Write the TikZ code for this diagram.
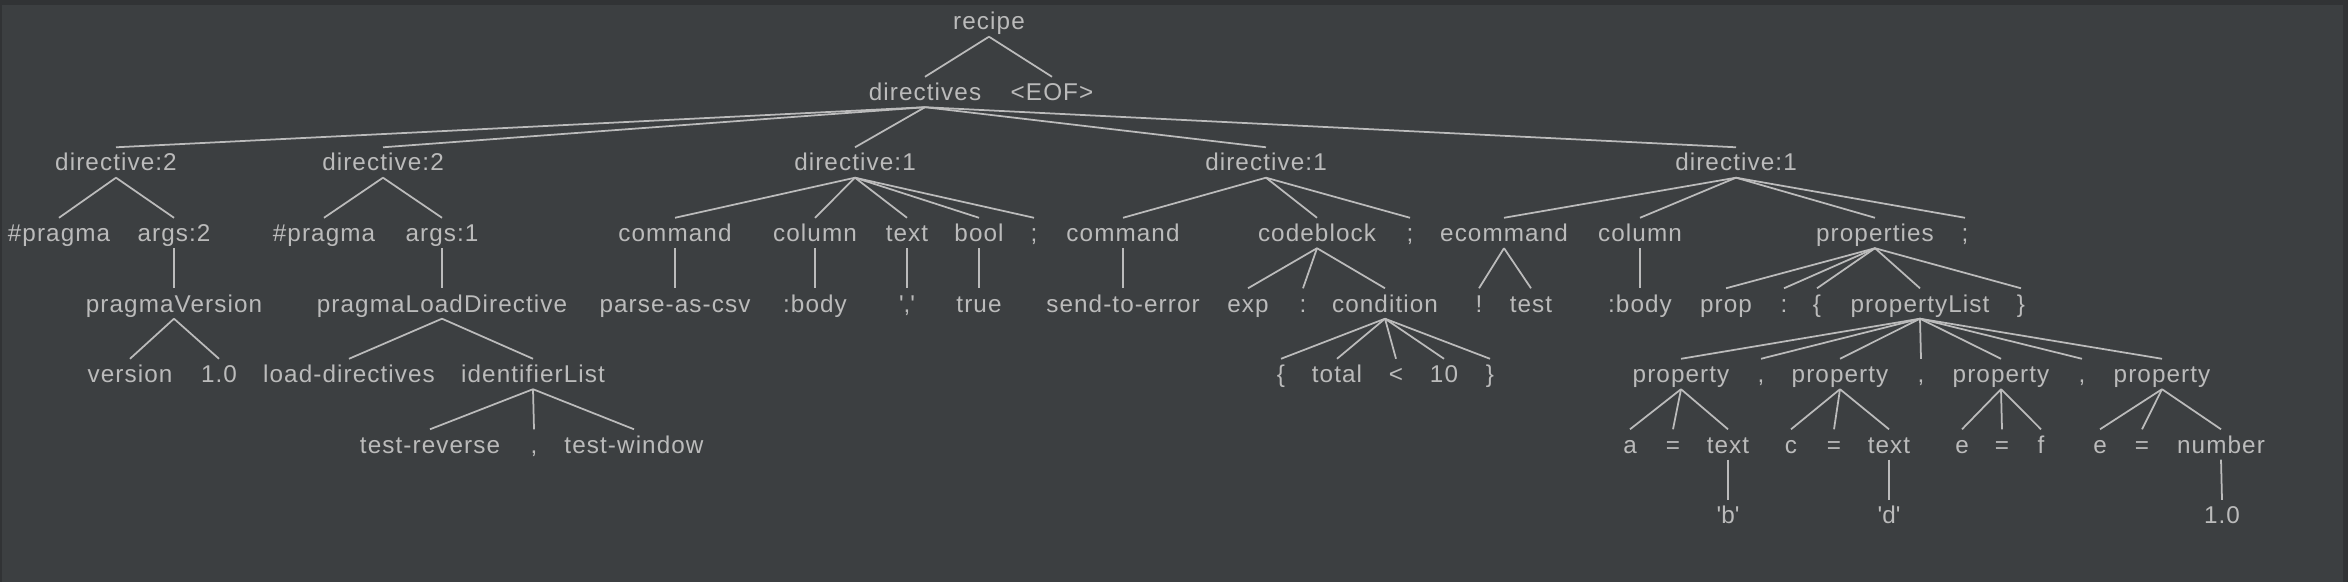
\documentclass[tikz,border=0pt]{standalone}
\usepackage{fontspec}
\setmainfont{Liberation Sans}[LetterSpace=4.5]
\definecolor{darcbg}{HTML}{3C3F41}
\definecolor{darcframe}{HTML}{313335}
\definecolor{darcfg}{HTML}{BBBBBB}
\newcommand{\sq}{\textquotesingle}
\newcommand{\kids}[2]{\foreach \kid in {#2} {\draw[br] (#1.south) -- (\kid.north);}}
\begin{document}
\begin{tikzpicture}[x=0.01cm, y=-0.01cm,
    tok/.style={anchor=base, inner sep=0pt, text height=0.23cm, text depth=0.06cm,
        text=darcfg, font=\fontsize{6.9pt}{8pt}\selectfont},
    br/.style={draw=darcfg, line width=0.5pt}]
    % Sfondo
    \fill[darcframe] (0,0) rectangle (2348,582);
    \fill[darcbg] (2,5) rectangle (2343,582);
    \useasboundingbox (0,0) rectangle (2348,582);
    % Radice
    \node[tok] (recipe) at (989,30) {recipe};
    \node[tok] (dirs) at (925,100.5) {directives};
    \node[tok] (eof) at (1052,100.5) {<EOF>};
    \kids{recipe}{dirs,eof}
    % Direttive
    \node[tok] (dA) at (116,171) {directive:2};
    \node[tok] (dB) at (383,171) {directive:2};
    \node[tok] (dC) at (855,171) {directive:1};
    \node[tok] (dD) at (1266,171) {directive:1};
    \node[tok] (dE) at (1736,171) {directive:1};
    \kids{dirs}{dA,dB,dC,dD,dE}
    % pragma version
    \node[tok] (hashA) at (59,241.5) {\#pragma};
    \node[tok] (argsA) at (174,241.5) {args:2};
    \kids{dA}{hashA,argsA}
    \node[tok] (pVer) at (174,312) {pragmaVersion};
    \kids{argsA}{pVer}
    \node[tok] (ver) at (130,382.5) {version};
    \node[tok] (verNum) at (219,382.5) {1.0};
    \kids{pVer}{ver,verNum}
    % pragma load-directives
    \node[tok] (hashB) at (324,241.5) {\#pragma};
    \node[tok] (argsB) at (442,241.5) {args:1};
    \kids{dB}{hashB,argsB}
    \node[tok] (pLoad) at (442,312) {pragmaLoadDirective};
    \kids{argsB}{pLoad}
    \node[tok] (loadDir) at (349,382.5) {load-directives};
    \node[tok] (idList) at (533,382.5) {identifierList};
    \kids{pLoad}{loadDir,idList}
    \node[tok] (idA) at (430,453) {test-reverse};
    \node[tok] (idComma) at (534,453) {,};
    \node[tok] (idB) at (634,453) {test-window};
    \kids{idList}{idA,idComma,idB}
    % parse-as-csv
    \node[tok] (cmdA) at (675,241.5) {command};
    \node[tok] (colA) at (815,241.5) {column};
    \node[tok] (txtA) at (907,241.5) {text};
    \node[tok] (boolA) at (979,241.5) {bool};
    \node[tok] (semiA) at (1034,241.5) {;};
    \kids{dC}{cmdA,colA,txtA,boolA,semiA}
    \node[tok] (csv) at (675,312) {parse-as-csv};
    \kids{cmdA}{csv}
    \node[tok] (bodyA) at (815,312) {:body};
    \kids{colA}{bodyA}
    \node[tok] (sep) at (907,312) {\sq,\sq};
    \kids{txtA}{sep}
    \node[tok] (true) at (979,312) {true};
    \kids{boolA}{true}
    % send-to-error
    \node[tok] (cmdB) at (1123,241.5) {command};
    \node[tok] (code) at (1317,241.5) {codeblock};
    \node[tok] (semiB) at (1410,241.5) {;};
    \kids{dD}{cmdB,code,semiB}
    \node[tok] (err) at (1123,312) {send-to-error};
    \kids{cmdB}{err}
    \node[tok] (exp) at (1248,312) {exp};
    \node[tok] (expCol) at (1303,312) {:};
    \node[tok] (cond) at (1385,312) {condition};
    \kids{code}{exp,expCol,cond}
    \node[tok] (lbrA) at (1281,382.5) {\{};
    \node[tok] (total) at (1337,382.5) {total};
    \node[tok] (lt) at (1396,382.5) {<};
    \node[tok] (ten) at (1444,382.5) {10};
    \node[tok] (rbrA) at (1490,382.5) {\}};
    \kids{cond}{lbrA,total,lt,ten,rbrA}
    % properties
    \node[tok] (ecmd) at (1504,241.5) {ecommand};
    \node[tok] (colC) at (1640,241.5) {column};
    \node[tok] (props) at (1875,241.5) {properties};
    \node[tok] (semiC) at (1965,241.5) {;};
    \kids{dE}{ecmd,colC,props,semiC}
    \node[tok] (bang) at (1479,312) {!};
    \node[tok] (test) at (1531,312) {test};
    \kids{ecmd}{bang,test}
    \node[tok] (bodyC) at (1640,312) {:body};
    \kids{colC}{bodyC}
    \node[tok] (prop) at (1726,312) {prop};
    \node[tok] (propCol) at (1784,312) {:};
    \node[tok] (lbrB) at (1817,312) {\{};
    \node[tok] (pList) at (1920,312) {propertyList};
    \node[tok] (rbrB) at (2021,312) {\}};
    \kids{props}{prop,propCol,lbrB,pList,rbrB}
    \node[tok] (pA) at (1681,382.5) {property};
    \node[tok] (cmA) at (1761,382.5) {,};
    \node[tok] (pB) at (1840,382.5) {property};
    \node[tok] (cmB) at (1921,382.5) {,};
    \node[tok] (pC) at (2001,382.5) {property};
    \node[tok] (cmC) at (2082,382.5) {,};
    \node[tok] (pD) at (2162,382.5) {property};
    \kids{pList}{pA,cmA,pB,cmB,pC,cmC,pD}
    % singole proprieta
    \node[tok] (kA) at (1630,453) {a};
    \node[tok] (eqA) at (1673,453) {=};
    \node[tok] (vA) at (1728,453) {text};
    \kids{pA}{kA,eqA,vA}
    \node[tok] (kB) at (1791,453) {c};
    \node[tok] (eqB) at (1834,453) {=};
    \node[tok] (vB) at (1889,453) {text};
    \kids{pB}{kB,eqB,vB}
    \node[tok] (kC) at (1962,453) {e};
    \node[tok] (eqC) at (2002,453) {=};
    \node[tok] (vC) at (2041,453) {f};
    \kids{pC}{kC,eqC,vC}
    \node[tok] (kD) at (2100,453) {e};
    \node[tok] (eqD) at (2142,453) {=};
    \node[tok] (vD) at (2221,453) {number};
    \kids{pD}{kD,eqD,vD}
    \node[tok] (litA) at (1728,523.5) {\sq b\sq};
    \kids{vA}{litA}
    \node[tok] (litB) at (1889,523.5) {\sq d\sq};
    \kids{vB}{litB}
    \node[tok] (litD) at (2222,523.5) {1.0};
    \kids{vD}{litD}
\end{tikzpicture}
\end{document}
